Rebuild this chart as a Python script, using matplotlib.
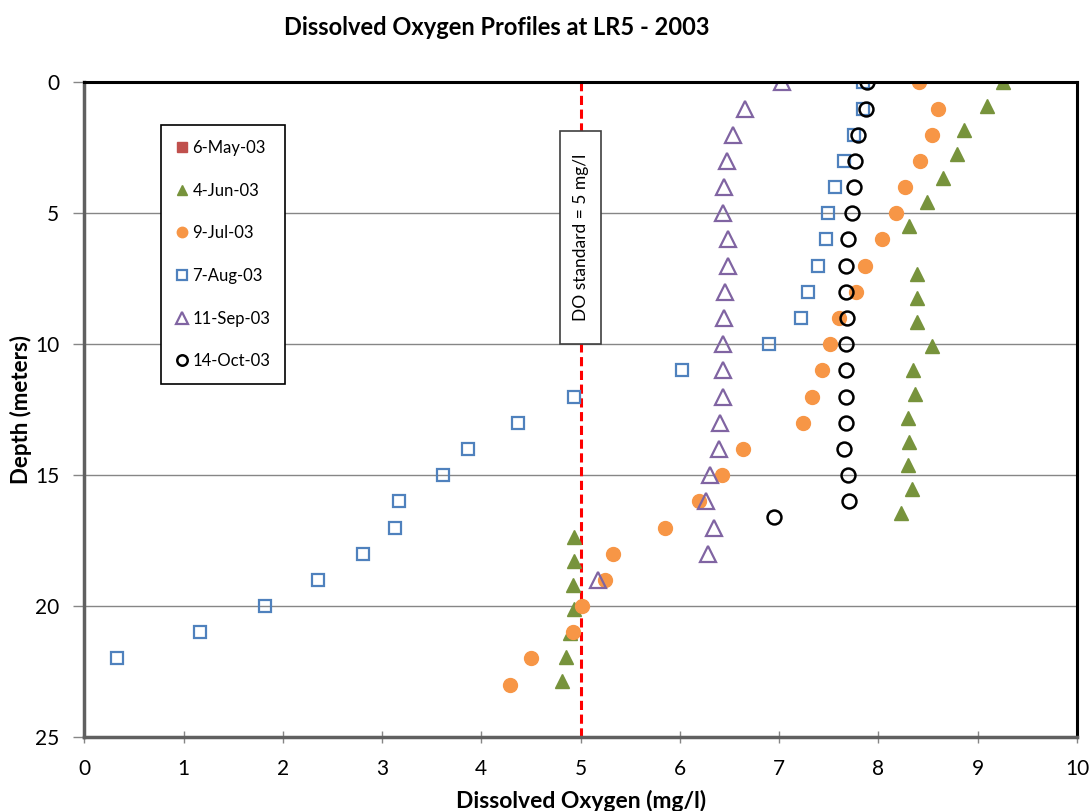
import matplotlib.pyplot as plt
import matplotlib.patches as mpatches

plt.rcParams['font.family'] = ['Lato', 'DejaVu Sans']

# 6-May-03 has no profile values (legend only)
may_do, may_depth = [], []

# 4-Jun-03: readings every 3 ft (depth in m)
jun_depth = [0.0, 0.91, 1.83, 2.74, 3.66, 4.57, 5.49, 7.32, 8.23, 9.14, 10.06, 10.97,
             11.89, 12.80, 13.72, 14.63, 15.54, 16.46, 17.37, 18.29, 19.20, 20.12,
             21.03, 21.95, 22.86]
jun_do = [9.26, 9.09, 8.86, 8.79, 8.65, 8.49, 8.31, 8.39, 8.39, 8.39, 8.54, 8.35,
          8.37, 8.30, 8.31, 8.30, 8.34, 8.23, 4.93, 4.93, 4.92, 4.93, 4.89, 4.85, 4.81]

jul_depth = list(range(0, 24))
jul_do = [8.41, 8.60, 8.54, 8.42, 8.27, 8.18, 8.04, 7.87, 7.77, 7.60, 7.51, 7.43,
          7.33, 7.24, 6.64, 6.42, 6.19, 5.85, 5.33, 5.25, 5.01, 4.92, 4.50, 4.29]

aug_depth = list(range(0, 23))
aug_do = [7.84, 7.84, 7.75, 7.65, 7.56, 7.49, 7.47, 7.39, 7.29, 7.22, 6.90, 6.02,
          4.93, 4.37, 3.87, 3.61, 3.17, 3.13, 2.81, 2.35, 1.82, 1.17, 0.33]

sep_depth = list(range(0, 20))
sep_do = [7.03, 6.66, 6.54, 6.47, 6.44, 6.43, 6.49, 6.48, 6.45, 6.44, 6.43, 6.43,
          6.43, 6.40, 6.39, 6.30, 6.26, 6.34, 6.28, 5.18]

oct_depth = list(range(0, 17)) + [16.6]
oct_do = [7.89, 7.88, 7.79, 7.76, 7.75, 7.73, 7.69, 7.67, 7.67, 7.68, 7.67, 7.67,
          7.67, 7.67, 7.65, 7.69, 7.70, 6.95]

do_standard = 5

fig = plt.figure(figsize=(10.9, 8.11), dpi=100)
ax = fig.add_axes([0.0773, 0.0912, 0.9107, 0.8073])

ax.plot(may_do, may_depth, ls='none', marker='s', ms=9, color='#C0504D', label='6-May-03')
ax.plot(jun_do, jun_depth, ls='none', marker='^', ms=10, color='#77933C', label='4-Jun-03')
ax.plot(jul_do, jul_depth, ls='none', marker='o', ms=10, color='#F79646', label='9-Jul-03')
ax.plot(aug_do, aug_depth, ls='none', marker='s', ms=9, mfc='none', mec='#4F81BD',
        mew=1.6, label='7-Aug-03')
ax.plot(sep_do, sep_depth, ls='none', marker='^', ms=11, mfc='none', mec='#8064A2',
        mew=1.6, label='11-Sep-03')
ax.plot(oct_do, oct_depth, ls='none', marker='o', ms=10, mfc='none', mec='black',
        mew=1.8, label='14-Oct-03')

# DO standard line + label box
ax.axvline(do_standard, color='red', lw=2.2, ls=(0, (3, 1.5)), zorder=1)
ax.add_patch(mpatches.Rectangle((4.79, 1.85), 0.42, 8.15, fc='white', ec='#404040',
                                lw=1.2, zorder=3))
ax.text(do_standard, 5.92, 'DO standard = 5 mg/l', rotation=90, ha='center', va='center',
        fontsize=12.5, zorder=4)

ax.set_xlim(0, 10)
ax.set_ylim(25, 0)
ax.set_xticks(range(0, 11))
ax.set_yticks(range(0, 26, 5))
ax.yaxis.grid(True, color='#868686', lw=1)
ax.set_axisbelow(True)
ax.tick_params(axis='x', direction='inout', length=8, width=1, color='#868686',
               labelsize=15, pad=12)
ax.tick_params(axis='y', direction='out', length=8, width=1, color='#868686',
               labelsize=15, pad=10)

for side in ['top', 'right']:
    ax.spines[side].set_color('black')
    ax.spines[side].set_linewidth(2.2)
for side in ['left', 'bottom']:
    ax.spines[side].set_color('#606060')
    ax.spines[side].set_linewidth(2.5)

ax.set_xlabel('Dissolved Oxygen (mg/l)', fontsize=16.5, fontweight='bold')
ax.set_ylabel('Depth (meters)', fontsize=16, fontweight='bold')
ax.xaxis.set_label_coords(0.5, -0.081)
ax.yaxis.set_label_coords(-0.053, 0.5)
fig.text(0.4555, 0.966, 'Dissolved Oxygen Profiles at LR5 - 2003', ha='center', va='center',
         fontsize=17, fontweight='bold')

leg = ax.legend(loc='upper left', bbox_to_anchor=(0.077, 0.935), borderaxespad=0,
                fontsize=12, markerscale=0.75, labelspacing=1.6, handlelength=0.7,
                handletextpad=0.3, borderpad=0.9, fancybox=False, framealpha=1,
                edgecolor='black')
leg.get_frame().set_linewidth(1.2)

fig.savefig('out.png', dpi=100)
